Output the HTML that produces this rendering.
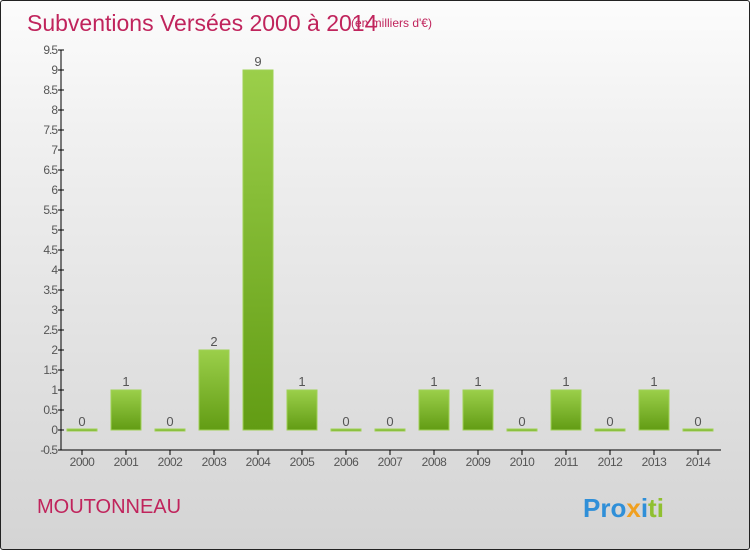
<!DOCTYPE html>
<html><head><meta charset="utf-8"><style>
body{margin:0;width:750px;height:550px;overflow:hidden;font-family:"Liberation Sans",sans-serif}
#wrap{position:absolute;left:0;top:0;width:748px;height:548px;border:1px solid #222;border-radius:3px;background:linear-gradient(#fcfcfc,#f0f0f0 25%,#d4d4d4 100%)}
</style></head><body>
<div id="wrap">
<svg width="748" height="548" xmlns="http://www.w3.org/2000/svg">
<defs><linearGradient id="g" x1="0" y1="0" x2="0" y2="1"><stop offset="0" stop-color="#9bcf4a"/><stop offset="1" stop-color="#629c14"/></linearGradient></defs>
<text x="26" y="30" font-size="23" fill="#c0245c">Subventions Versées 2000 à 2014</text>
<text x="350" y="26" font-size="12" fill="#c0245c">(en milliers d'€)</text>
<text x="36" y="512" font-size="20" fill="#c0245c">MOUTONNEAU</text>
<text x="582" y="516" font-size="26" font-weight="bold"><tspan fill="#2f8fd8">Pro</tspan><tspan fill="#f0a020">x</tspan><tspan fill="#2f8fd8">i</tspan><tspan fill="#90c030">ti</tspan></text>
<g id="axes"></g><g id="bars"></g>
</svg></div>
<script>
const years=["2000","2001","2002","2003","2004","2005","2006","2007","2008","2009","2010","2011","2012","2013","2014"];
const values=[0,1,0,2,9,1,0,0,1,1,0,1,0,1,0];
const yTicks=["-0.5","0","0.5","1","1.5","2","2.5","3","3.5","4","4.5","5","5.5","6","6.5","7","7.5","8","8.5","9","9.5"];
const NS="http://www.w3.org/2000/svg";
const y=v=>429-v*40, x=i=>81+i*44;
function mk(t,a,p,txt){const e=document.createElementNS(NS,t);for(const k in a)e.setAttribute(k,a[k]);if(txt!=null)e.textContent=txt;p.appendChild(e);return e;}
const ax=document.getElementById('axes'), bg=document.getElementById('bars');
const yl=mk('line',{x1:60,y1:y(9.5),x2:60,y2:y(-0.5),stroke:'#000'},ax);


const xl=mk('line',{x1:60,y1:y(-0.5),x2:720,y2:y(-0.5),stroke:'#000'},ax);


yTicks.forEach(t=>{const v=parseFloat(t);mk('line',{x1:57,y1:y(v),x2:63,y2:y(v),stroke:'#000'},ax);
const l=mk('text',{x:56,y:y(v)+4,'font-size':12,fill:'#555','text-anchor':'end','letter-spacing':'-1'},ax,t);

});
years.forEach((yr,i)=>{mk('line',{x1:x(i),y1:y(-0.5),x2:x(i),y2:y(-0.5)+5,stroke:'#000'},ax);
const l=mk('text',{x:x(i),y:y(-0.5)+16,'font-size':12,fill:'#555','text-anchor':'middle','letter-spacing':'-0.5'},ax,yr);


const v=values[i];const top=y(v),h=Math.max(y(0)-top,2);
const r=mk('rect',{x:x(i)-15,y:v>0?top:y(0)-1,width:30,height:h,fill:'url(#g)',stroke:'#9fd155','stroke-width':1},bg);


const vl=mk('text',{x:x(i),y:(v>0?top:y(0))-4,'font-size':13,fill:'#555','text-anchor':'middle'},bg,String(v));

});
</script>
</body></html>
